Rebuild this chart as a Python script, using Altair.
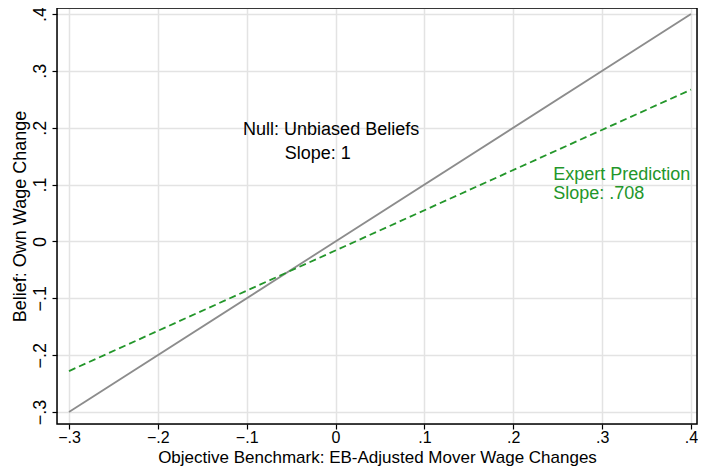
import altair as alt
import pandas as pd

ticks = [-0.3, -0.2, -0.1, 0.0, 0.1, 0.2, 0.3, 0.4]
line_x = [-0.3, 0.4]
null_y = [-0.3, 0.4]
expert_y = [-0.228, 0.267]

lines = pd.DataFrame({
    "x": line_x + line_x,
    "y": null_y + expert_y,
    "series": ["Null", "Null", "Expert", "Expert"],
})

labels = pd.DataFrame({
    "x": [-0.005, -0.02, 0.245, 0.245],
    "y": [0.196, 0.154, 0.116, 0.083],
    "text": ["Null: Unbiased Beliefs", "Slope: 1", "Expert Prediction", "Slope: .708"],
    "series": ["Null", "Null", "Expert", "Expert"],
})

W, H = 640, 416
FS = 18
FONT = "Liberation Sans"
GREEN = "#23962a"

lab_expr = "datum.value == 0 ? '0' : replace(format(datum.value, '.1f'), '0.', '.')"

xs = alt.Scale(domain=[-0.3135, 0.40675], nice=False, zero=False)
ys = alt.Scale(domain=[-0.32109, 0.41054], nice=False, zero=False)

common = dict(values=ticks, labelExpr=lab_expr, grid=True, gridColor="#e3e3e3", gridWidth=1.5,
              domain=False, tickColor="black", tickSize=5, tickWidth=1.2,
              labelColor="black", titleColor="black",
              titleFontWeight="normal", labelFont=FONT, titleFont=FONT)

xaxis = alt.Axis(title="Objective Benchmark: EB-Adjusted Mover Wage Changes",
                 labelFontSize=16, titleFontSize=17, labelPadding=0, titlePadding=4, **common)
yaxis = alt.Axis(title="Belief: Own Wage Change", labelAngle=270, labelAlign="center",
                 labelFontSize=FS, titleFontSize=FS, labelBaseline="bottom",
                 labelPadding=3, titlePadding=2, **common)

null_line = alt.Chart(lines).transform_filter(alt.datum.series == "Null").mark_line(
    color="#8c8c8c", strokeWidth=1.8, clip=True
).encode(x=alt.X("x:Q", scale=xs, axis=xaxis), y=alt.Y("y:Q", scale=ys, axis=yaxis))

expert_line = alt.Chart(lines).transform_filter(alt.datum.series == "Expert").mark_line(
    color=GREEN, strokeWidth=1.8, strokeDash=[7, 4], clip=True
).encode(x=alt.X("x:Q", scale=xs), y=alt.Y("y:Q", scale=ys))

null_text = alt.Chart(labels).transform_filter(alt.datum.series == "Null").mark_text(
    fontSize=FS, font=FONT, color="black", align="center", baseline="middle"
).encode(x=alt.X("x:Q", scale=xs), y=alt.Y("y:Q", scale=ys), text="text:N")

expert_text = alt.Chart(labels).transform_filter(alt.datum.series == "Expert").mark_text(
    fontSize=FS, font=FONT, color=GREEN, align="left", baseline="middle"
).encode(x=alt.X("x:Q", scale=xs), y=alt.Y("y:Q", scale=ys), text="text:N")

frame = alt.Chart(pd.DataFrame({"a": [0]})).mark_rect(
    fill=None, fillOpacity=0, stroke="black", strokeWidth=1.5
).encode(x=alt.value(0), x2=alt.value(W), y=alt.value(0), y2=alt.value(H))

chart = alt.layer(null_line, expert_line, null_text, expert_text, frame).properties(
    width=W, height=H,
    autosize=alt.AutoSizeParams(type="none"),
    padding={"left": 49, "top": 0, "right": 1, "bottom": 42},
).configure_view(stroke=None).configure(background="white")

chart.save("out.html", embed_options={"renderer": "svg", "actions": False})
